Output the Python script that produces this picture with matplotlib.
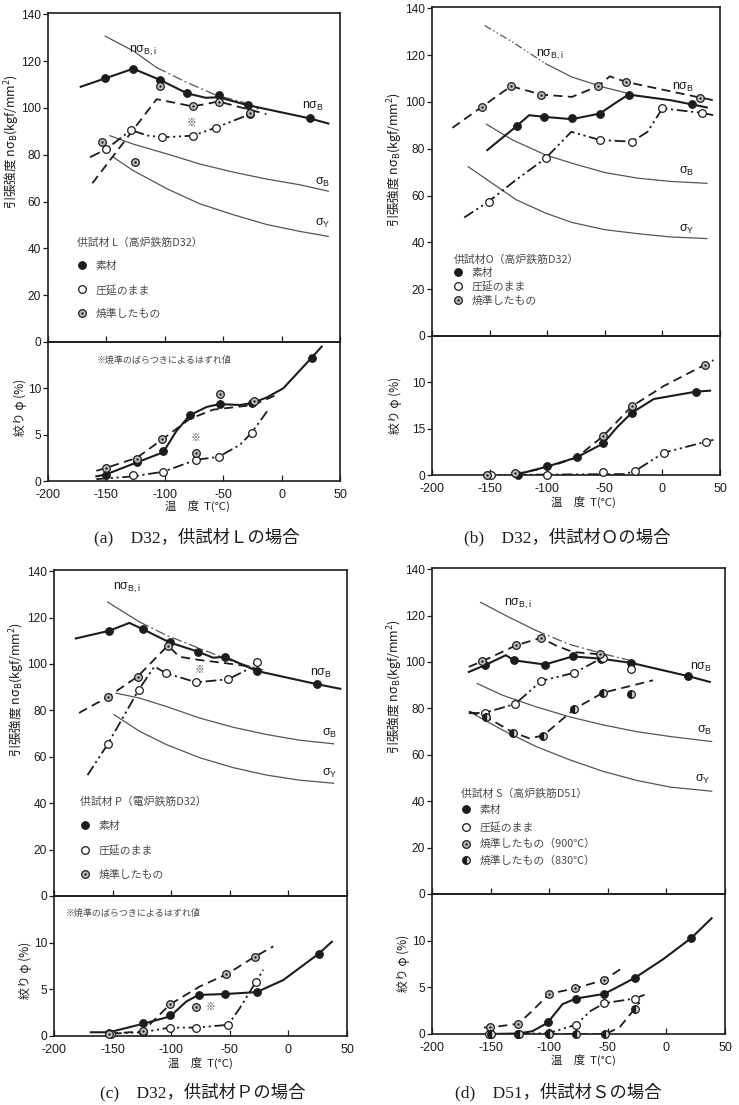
import numpy as np
import matplotlib.pyplot as plt
from matplotlib.lines import Line2D

plt.rcParams['font.family'] = ['Liberation Sans', 'Noto Sans CJK JP']
plt.rcParams['mathtext.default'] = 'regular'
plt.rcParams['axes.unicode_minus'] = False

W, H = 739, 1105
INK = '#1c1c1c'
GREY = '#555555'
SOFT = '#4a4a4a'
JP = ['Noto Sans CJK JP', 'Liberation Sans']
SERIF = ['Liberation Serif', 'Noto Sans CJK JP']

T_TICKS = [-200, -150, -100, -50, 0, 50]

# ---------------- (a) D32, L ----------------
a_nsbi = [(-151, 130.6), (-127, 124.3), (-107, 117.2), (-81, 110.8), (-56, 105.4), (-27, 101.6)]
a_sb = [(-147, 88.1), (-127, 84.5), (-98, 80.3), (-70, 76), (-41, 72.5), (-13, 69.6), (16, 67.1), (40, 64.4)]
a_sy = [(-144, 78.9), (-127, 73.2), (-98, 65.4), (-70, 59), (-41, 54.3), (-13, 50.2), (16, 47.2), (40, 45.1)]
a_bare = [(-151, 112.6), (-127, 116.7), (-104, 111.9), (-81, 106.2), (-54, 105.4), (-28.5, 101.1), (24, 95.5)]
a_bare_line = [(-172, 109), (-151, 112.6), (-127, 116.7), (-104, 111.9), (-81, 106.2), (-65, 104.3),
               (-54, 104.5), (-28.5, 101.1), (24, 95.5), (40, 93.3)]
a_roll = [(-150, 82.4), (-129, 90.5), (-102, 87.4), (-76, 88.1), (-56, 91.6), (-27, 97.3)]
a_roll_line = [(-164, 78.9), (-150, 82.4), (-129, 90.5), (-115, 88.2), (-102, 87.4), (-76, 88.1),
               (-56, 91.6), (-27, 97.3), (-20, 100)]
a_norm = [(-154, 85.2), (-125.5, 76.7), (-104, 109.5), (-76, 100.6), (-54, 102.7), (-27, 97.7)]
a_norm_line = [(-162, 67.8), (-107, 103.7), (-76, 100.6), (-54, 102.7), (-13, 97.3)]

a_phi_bare = [(-150.6, 0.7), (-124, 2.0), (-101.4, 3.2), (-78.6, 7.1), (-52.9, 8.3), (-25.7, 8.4), (25.7, 13.3)]
a_phi_bare_line = [(-158.6, 0.5), (-150.6, 0.7), (-124, 2.0), (-101.4, 3.1), (-90, 5.4), (-78.6, 7.1),
                   (-64, 8.0), (-52.9, 8.3), (-35.7, 8.2), (-25.7, 8.4), (-12.9, 9.0), (1.4, 10.0),
                   (25.7, 13.3), (34.3, 14.5)]
a_phi_norm = [(-150.6, 1.4), (-124, 2.4), (-102, 4.5), (-52.9, 9.4), (-24, 8.6)]
a_phi_norm_line = [(-158.6, 1.1), (-150.6, 1.4), (-124, 2.5), (-102, 4.5), (-78.6, 6.7), (-58.6, 7.7),
                   (-24.3, 8.2), (-4.3, 9.3)]
a_phi_norm_out = [(-73.4, 3.0)]
a_phi_roll = [(-127, 0.6), (-101.4, 1.0), (-72.9, 2.3), (-54, 2.6), (-25.7, 5.2)]
a_phi_roll_line = [(-158.6, 0.2), (-127, 0.5), (-101.4, 1.0), (-72.9, 2.3), (-54, 2.6), (-35.7, 3.9),
                   (-25.7, 5.2), (-11.4, 7.7)]

# ---------------- (b) D32, O ----------------
b_nsbi = [(-154.3, 132.6), (-130, 125.5), (-101.4, 116.3), (-78.6, 110.6), (-50, 106.1), (-27, 103.3)]
b_sb = [(-152.9, 90.5), (-130, 83.7), (-101.4, 77.3), (-78.6, 73.8), (-50, 69.8), (-21.4, 67.4), (7.1, 66), (38.6, 65.2)]
b_sy = [(-168.6, 72.3), (-150, 66), (-127, 58.2), (-101.4, 52.5), (-78.6, 48.5), (-50, 45.4), (-21.4, 43.7),
        (7.1, 42.3), (38.6, 41.6)]
b_bare = [(-126.6, 89.6), (-102.9, 93.6), (-78.6, 93.2), (-54.3, 95), (-29.4, 103.1), (25.7, 98.9)]
b_bare_line = [(-152, 79.4), (-126.6, 89.6), (-115.7, 94.3), (-102.9, 93.6), (-78.6, 92.6), (-54.3, 95),
               (-41.4, 99.3), (-29.4, 103.1), (7.1, 100.7), (25.7, 98.9), (38.6, 97.6)]
b_roll = [(-150.9, 57.4), (-101.4, 75.9), (-54.3, 83.7), (-26.3, 83), (0, 97.2), (34.3, 95.3)]
b_roll_line = [(-172, 50.6), (-150.9, 57.4), (-127, 66.7), (-101.4, 75.9), (-79.1, 87.2), (-54.3, 83.7),
               (-26.3, 83), (-12.9, 87.2), (0, 97.2), (34.3, 95.3), (44.3, 94.3)]
b_norm = [(-156.6, 97.9), (-131.4, 106.7), (-105.1, 103.1), (-55.7, 106.7), (-31.4, 108.5), (32.9, 101.8)]
b_norm_line = [(-182.3, 88.9), (-156.6, 97.9), (-131.4, 106.7), (-105.1, 103.1), (-78.6, 102.1),
               (-55.7, 106.7), (-45.7, 110.9), (-31.4, 108.5), (32.9, 101.8), (44.3, 100.7)]

b_phi_bare = [(-125.3, 0), (-100.3, 1.0), (-74.4, 1.9), (-51.4, 3.4), (-26.7, 6.7), (29.3, 9.0)]
b_phi_bare_line = [(-128, 0), (-100.3, 0.9), (-74.4, 1.9), (-51.4, 3.4), (-39, 5.2), (-26.7, 6.7),
                   (-7.5, 8.2), (29.3, 9.0), (41.4, 9.1)]
b_phi_norm = [(-152.6, 0), (-127.6, 0.2), (-51.4, 4.2), (-26.7, 7.4), (37, 11.9)]
b_phi_norm_line = [(-127.6, 0.1), (-100.3, 0.8), (-74.4, 1.9), (-51.4, 4.2), (-26.7, 7.4), (1.1, 9.6),
                   (37, 11.9), (44.3, 12.4)]
b_phi_roll = [(-148.9, 0), (-100.3, 0), (-51.4, 0.3), (-24.1, 0.4), (1.1, 2.4), (38, 3.6)]
b_phi_roll_line = [(-155, 0), (-33.3, 0.1), (-24.1, 0.4), (1.1, 2.4), (38, 3.6), (44.3, 3.8)]

# ---------------- (c) D32, P ----------------
c_nsbi = [(-154.3, 126.7), (-127, 118.1), (-104.3, 112.4), (-75.7, 106.7), (-47, 101), (-21.4, 97.4)]
c_sb = [(-147, 87.4), (-127, 85.3), (-104.3, 81.7), (-75.7, 76.7), (-47, 72.7), (-18.6, 69.6), (10, 67.1), (38.6, 65.6)]
c_sy = [(-148.6, 78.1), (-127, 71), (-104.3, 65.3), (-75.7, 59.6), (-47, 55.3), (-18.6, 52.1), (10, 49.9), (38.6, 48.6)]
c_bare = [(-152.9, 114.3), (-124.3, 115), (-101.4, 109.3), (-77.1, 105.3), (-54.3, 103.1), (-27.1, 97), (24.3, 91.3)]
c_bare_line = [(-181.4, 111), (-152.9, 114.3), (-135.7, 117.7), (-124.3, 115), (-101.4, 109.3), (-77.1, 105.3),
               (-64.3, 102.7), (-54.3, 103.1), (-27.1, 97), (24.3, 91.3), (44.3, 89.3)]
c_roll = [(-154.3, 65.3), (-127.7, 88.9), (-104.3, 96), (-78.6, 92.1), (-51.4, 93.4), (-27.1, 101)]
c_roll_line = [(-171.4, 52.1), (-154.3, 65.3), (-127.7, 88.9), (-114.3, 98.9), (-104.3, 96), (-78.6, 92.1),
               (-51.4, 93.4), (-35.7, 97.4), (-27.1, 101)]
c_norm = [(-154.3, 85.7), (-128.6, 94.6), (-102.9, 107.9)]
c_norm_line = [(-178.6, 78.9), (-154.3, 85.7), (-128.6, 94.6), (-102.9, 107.9), (-92.9, 103.1), (-75.7, 101.7),
               (-52.9, 100.3), (-32.9, 98.9), (-20, 96)]

c_phi_bare = [(-152.9, 0.3), (-124.3, 1.4), (-100.9, 2.2), (-76.6, 4.4), (-53.7, 4.5), (-27.1, 4.7), (25.7, 8.8)]
c_phi_bare_line = [(-168.6, 0.4), (-152.9, 0.4), (-124.3, 1.3), (-100.9, 2.1), (-87.1, 3.7), (-76.6, 4.4),
                   (-53.7, 4.5), (-27.1, 4.7), (-4.3, 6.0), (25.7, 8.8), (37.1, 10.1)]
c_phi_norm = [(-152.9, 0.25), (-124.3, 0.5), (-100.9, 3.4), (-52.9, 6.6), (-28.6, 8.5)]
c_phi_norm_line = [(-152.9, 0.25), (-124.3, 0.5), (-100.9, 3.4), (-75.7, 5.3), (-52.9, 6.6), (-28.6, 8.5),
                   (-12.9, 9.6)]
c_phi_norm_out = [(-78.6, 3.1)]
c_phi_roll = [(-151.4, 0.25), (-124.3, 0.4), (-101.4, 0.9), (-78.6, 0.9), (-51.4, 1.2), (-27.7, 5.8)]
c_phi_roll_line = [(-151.4, 0.25), (-124.3, 0.4), (-101.4, 0.9), (-78.6, 0.9), (-51.4, 1.2), (-41.4, 3.0),
                   (-27.7, 5.8), (-21.4, 7.1)]

# ---------------- (d) D51, S ----------------
d_nsbi = [(-158.6, 125.7), (-134.3, 119.3), (-111.4, 113.6), (-82.9, 107.6), (-54.3, 103.6), (-31.4, 100.7)]
d_sb = [(-161.4, 90.7), (-140, 85.7), (-111.4, 80.7), (-82.9, 76.4), (-54.3, 72.9), (-25.7, 70), (2.9, 67.9), (38.6, 65.7)]
d_sy = [(-165.7, 77.9), (-140, 70.7), (-111.4, 63.6), (-82.9, 57.9), (-54.3, 52.9), (-25.7, 49), (2.9, 46.1), (38.6, 44.3)]
d_bare = [(-154.9, 98.6), (-130, 100.7), (-103.7, 98.9), (-80, 102.4), (-55.7, 101.4), (-30, 99.6), (18.6, 93.9)]
d_bare_line = [(-168.6, 95.7), (-154.9, 98.6), (-137, 102.9), (-130, 100.7), (-103.7, 98.9), (-80, 102.4),
               (-55.7, 101.4), (-30, 99.6), (18.6, 93.9), (37, 91.4)]
d_roll = [(-154.9, 78.1), (-129, 81.9), (-106.6, 91.9), (-78.6, 95.3), (-54.3, 101.9), (-30, 97.1)]
d_roll_line = [(-168.6, 77.9), (-154.9, 78.1), (-129, 81.9), (-106.6, 91.9), (-78.6, 95.3), (-54.3, 101.9)]
d_norm = [(-157, 100.3), (-128.6, 107.1), (-107, 110.4), (-57, 103.6)]
d_norm_line = [(-168.6, 97.9), (-157, 100.3), (-128.6, 107.1), (-107, 110.4), (-94.3, 107.1), (-80, 104.3),
               (-57, 103.3)]
d_norm2 = [(-154.3, 76.4), (-130.6, 69.6), (-105.1, 68.3), (-78.6, 79.7), (-54.3, 86.7), (-30, 86.1)]
d_norm2_line = [(-168.6, 78.6), (-154.3, 76.4), (-130.6, 69.6), (-117, 67.1), (-105.1, 68.3), (-78.6, 79.7),
                (-54.3, 86.7), (-11.4, 92.1)]

d_phi_bare = [(-150.6, 0), (-126.3, 0), (-101.4, 1.3), (-77.1, 3.8), (-52.9, 4.3), (-27.1, 6.0), (21.4, 10.3)]
d_phi_bare_line = [(-150.6, 0), (-126.3, 0.05), (-114.3, 0.3), (-101.4, 1.2), (-88.6, 3.2), (-77.1, 3.8),
                   (-52.9, 4.3), (-27.1, 6.0), (-2.9, 8.0), (21.4, 10.3), (38.6, 12.4)]
d_phi_norm = [(-150.6, 0.7), (-126.3, 1.1), (-100, 4.3), (-77.7, 4.9), (-52.9, 5.8)]
d_phi_norm_line = [(-155.7, 0.7), (-150.6, 0.7), (-126.3, 1.1), (-114.3, 2.5), (-100, 4.3), (-77.7, 4.9),
                   (-52.9, 5.8), (-38.6, 7.0)]
d_phi_roll = [(-151.4, 0), (-126.3, 0), (-100, 0.1), (-77.1, 1.0), (-52.9, 3.3), (-27.1, 3.8)]
d_phi_roll_line = [(-126.3, 0), (-100, 0.1), (-77.1, 1.0), (-64.3, 2.5), (-52.9, 3.3), (-27.1, 3.8), (-18.6, 4.2)]
d_phi_norm2 = [(-150, 0), (-125.7, 0), (-100, 0), (-77.1, 0), (-52, 0), (-27.1, 2.7)]
d_phi_norm2_line = [(-100, 0), (-52, 0), (-40, 0.7), (-27.1, 2.7), (-22.9, 3.4)]

LEG_BARE = '素材'
LEG_ROLL = '圧延のまま'
LEG_NORM = '焼準したもの'
NOTE = '※焼準のばらつきによるはずれ値'

LS_ROLL = (0, (6, 2, 1.2, 2, 1.2, 2))
LS_NORM = (0, (5, 3))
LS_DASHDOT = (0, (8, 2.5, 1.5, 2.5))

MK = {
    'bare': dict(marker='o', ms=5.5, mfc=INK, mec=INK, mew=0.8),
    'roll': dict(marker='o', ms=5.5, mfc='white', mec=INK, mew=0.9),
    'norm': dict(marker='o', ms=5.5, mfc='#bdbdbd', mec=INK, mew=0.9),
    'norm2': dict(marker='o', ms=5.5, fillstyle='left', mfc=INK, mfcalt='#d8d8d8', mec=INK, mew=0.9),
}
DOT = dict(marker='o', ms=1.7, mfc=INK, mec=INK, mew=0)

fig = plt.figure(figsize=(W / 100, H / 100), dpi=100)


def px_axes(x0, y0, x1, y1):
    return fig.add_axes([x0 / W, 1 - y1 / H, (x1 - x0) / W, (y1 - y0) / H])


def fig_text(x, y, s, **kw):
    fig.text(x / W, 1 - y / H, s, **kw)


def frame(ax, ylim, yticks, ylabels, xlabels):
    ax.set_xlim(-200, 50)
    ax.set_ylim(*ylim)
    ax.set_xticks(T_TICKS)
    ax.set_yticks(yticks)
    ax.set_yticklabels(ylabels)
    ax.patch.set_alpha(0)
    for sp in ax.spines.values():
        sp.set_linewidth(1.2)
        sp.set_color(INK)
    ax.tick_params(axis='x', direction='in', length=4, width=0.9, color=INK,
                   labelsize=9, labelcolor=INK, pad=5.5, labelbottom=xlabels)
    ax.tick_params(axis='y', direction='out', length=3.5, width=0.9, color=INK,
                   labelsize=8.6, labelcolor=INK, pad=1.5)


def line(ax, pts, ls, lw=1.3, color=INK):
    p = np.array(pts, dtype=float)
    ax.plot(p[:, 0], p[:, 1], ls=ls, lw=lw, color=color, dash_capstyle='butt')


def marks(ax, pts, kind):
    p = np.array(pts, dtype=float)
    ax.plot(p[:, 0], p[:, 1], ls='none', zorder=5, clip_on=False, **MK[kind])
    if kind == 'norm':
        ax.plot(p[:, 0], p[:, 1], ls='none', zorder=6, clip_on=False, **DOT)


def handle(kind):
    h = Line2D([], [], ls='none', **MK[kind])
    if kind == 'norm':
        return (h, Line2D([], [], ls='none', **DOT))
    return h


def ref_curves(ax, nsbi, split, ls_first, ls_rest, sb, sy):
    n = np.array(nsbi, dtype=float)
    ax.plot(n[:split + 1, 0], n[:split + 1, 1], ls=ls_first, lw=0.9, color=GREY)
    ax.plot(n[split:, 0], n[split:, 1], ls=ls_rest, lw=0.9, color=GREY)
    line(ax, sb, '-', lw=0.9, color=GREY)
    line(ax, sy, '-', lw=0.9, color=GREY)


def curve_labels(ax, pos):
    texts = [r'n$\sigma_{B,i}$', r'n$\sigma_B$', r'$\sigma_B$', r'$\sigma_Y$']
    for s, (x, y) in zip(texts, pos):
        ax.text(x, y, s, fontsize=9, color=INK, ha='left', va='center')


def legend(ax, title, entries, anchor, spacing):
    hs = [handle(k) for k, _ in entries]
    labs = [t for _, t in entries]
    leg = ax.legend(hs, labs, loc='upper left', bbox_to_anchor=anchor, frameon=False,
                    title=title, alignment='left', prop=dict(family=JP, size=7.8),
                    title_fontproperties=dict(family=JP, size=7.8), labelspacing=spacing,
                    handlelength=0.8, handletextpad=0.9, borderpad=0, borderaxespad=0,
                    labelcolor=SOFT)
    leg.get_title().set_color(SOFT)


def labels_px(yl_top, yl_bot, xl, cap, caption):
    fig_text(*yl_top, '引張強度 n$\\sigma_B$(kgf/mm$^2$)', rotation=90, ha='center', va='center',
             family=JP, fontsize=9, color=INK)
    fig_text(*yl_bot, '絞り φ (%)', rotation=90, ha='center', va='center',
             family=JP, fontsize=8.6, color=INK)
    fig_text(*xl, '温　度  T(°C)', ha='center', va='center', family=JP, fontsize=8.2, color=INK)
    fig_text(*cap, caption, ha='center', va='center', family=SERIF, fontsize=12.5, color=INK)


TOP_YT = [0, 20, 40, 60, 80, 100, 120, 140]
TOP_YL = [str(v) for v in TOP_YT]
BOT_YT = [0, 5, 10]

# ---------------- panel (a) ----------------
at = px_axes(48, 13, 340, 342)
ab = px_axes(48, 342, 340, 481)
frame(at, (0, 140.5), TOP_YT, TOP_YL, False)
frame(ab, (0, 15), BOT_YT, ['0', '5', '10'], True)
ref_curves(at, a_nsbi, 2, '-', LS_DASHDOT, a_sb, a_sy)
line(at, a_bare_line, '-', lw=1.5)
line(at, a_roll_line, LS_ROLL)
line(at, a_norm_line, LS_NORM)
marks(at, a_bare, 'bare')
marks(at, a_roll, 'roll')
marks(at, a_norm, 'norm')
at.text(-77, 93.5, '※', fontsize=7, color=SOFT, ha='center', va='center', family=JP)
curve_labels(at, [(-131, 124.5), (17.5, 100.4), (28.6, 68.2), (28.6, 50.8)])
legend(at, '供試材 L（高炉鉄筋D32）', [('bare', LEG_BARE), ('roll', LEG_ROLL), ('norm', LEG_NORM)],
       (0.10, 0.317), 1.2)
line(ab, a_phi_bare_line, '-', lw=1.5)
line(ab, a_phi_roll_line, LS_ROLL)
line(ab, a_phi_norm_line, LS_NORM)
marks(ab, a_phi_bare, 'bare')
marks(ab, a_phi_roll, 'roll')
marks(ab, a_phi_norm, 'norm')
marks(ab, a_phi_norm_out, 'norm')
ab.text(-73.4, 4.6, '※', fontsize=7, color=SOFT, ha='center', va='center', family=JP)
ab.text(-158.6, 13, NOTE, fontsize=6.5, color=SOFT, ha='left', va='center', family=JP)
labels_px((12, 142), (20, 407), (197, 506), (197, 537), '(a)　D32，供試材Ｌの場合')

# ---------------- panel (b) ----------------
bt = px_axes(432, 7, 720, 336)
bb = px_axes(432, 336, 720, 475)
frame(bt, (0, 140.5), TOP_YT, TOP_YL, False)
frame(bb, (0, 15), BOT_YT, ['0', '15', '10'], True)
ref_curves(bt, b_nsbi, 2, LS_ROLL, '-', b_sb, b_sy)
line(bt, b_bare_line, '-', lw=1.5)
line(bt, b_roll_line, LS_ROLL)
line(bt, b_norm_line, LS_NORM)
marks(bt, b_bare, 'bare')
marks(bt, b_roll, 'roll')
marks(bt, b_norm, 'norm')
curve_labels(bt, [(-110, 119.9), (8.6, 106.1), (14.3, 70.2), (14.3, 45.4)])
legend(bt, '供試材O（高炉鉄筋D32）', [('bare', LEG_BARE), ('roll', LEG_ROLL), ('norm', LEG_NORM)],
       (0.075, 0.249), 0.3)
line(bb, b_phi_bare_line, '-', lw=1.5)
line(bb, b_phi_roll_line, LS_ROLL)
line(bb, b_phi_norm_line, LS_NORM)
marks(bb, b_phi_bare, 'bare')
marks(bb, b_phi_roll, 'roll')
marks(bb, b_phi_norm, 'norm')
labels_px((395, 160), (395, 405), (583, 502), (567, 537), '(b)　D32，供試材Ｏの場合')

# ---------------- panel (c) ----------------
ct = px_axes(54, 570, 347, 896)
cb = px_axes(54, 896, 347, 1036)
frame(ct, (0, 140.5), TOP_YT, TOP_YL, False)
frame(cb, (0, 15), BOT_YT, ['0', '5', '10'], True)
ref_curves(ct, c_nsbi, 1, '-', LS_DASHDOT, c_sb, c_sy)
line(ct, c_bare_line, '-', lw=1.5)
line(ct, c_roll_line, LS_ROLL)
line(ct, c_norm_line, LS_NORM)
marks(ct, c_bare, 'bare')
marks(ct, c_roll, 'roll')
marks(ct, c_norm, 'norm')
ct.text(-76, 97.5, '※', fontsize=7, color=SOFT, ha='center', va='center', family=JP)
curve_labels(ct, [(-150, 132.7), (18.6, 96), (28.6, 69.9), (28.6, 52.7)])
legend(ct, '供試材 P（電炉鉄筋D32）', [('bare', LEG_BARE), ('roll', LEG_ROLL), ('norm', LEG_NORM)],
       (0.09, 0.307), 1.3)
line(cb, c_phi_bare_line, '-', lw=1.5)
line(cb, c_phi_roll_line, LS_ROLL)
line(cb, c_phi_norm_line, LS_NORM)
marks(cb, c_phi_bare, 'bare')
marks(cb, c_phi_roll, 'roll')
marks(cb, c_phi_norm, 'norm')
marks(cb, c_phi_norm_out, 'norm')
cb.text(-71, 3.1, '※', fontsize=7, color=SOFT, ha='left', va='center', family=JP)
cb.text(-190, 13.1, NOTE, fontsize=6.5, color=SOFT, ha='left', va='center', family=JP)
labels_px((17, 690), (25, 970), (200, 1063), (203, 1092), '(c)　D32，供試材Ｐの場合')

# ---------------- panel (d) ----------------
dt = px_axes(432, 568, 725, 894)
db = px_axes(432, 894, 725, 1034)
frame(dt, (0, 140.5), TOP_YT, TOP_YL, False)
frame(db, (0, 15), BOT_YT, ['0', '5', '10'], True)
ref_curves(dt, d_nsbi, 2, '-', LS_DASHDOT, d_sb, d_sy)
line(dt, d_bare_line, '-', lw=1.5)
line(dt, d_roll_line, LS_ROLL)
line(dt, d_norm_line, LS_NORM)
line(dt, d_norm2_line, LS_NORM)
marks(dt, d_bare, 'bare')
marks(dt, d_roll, 'roll')
marks(dt, d_norm, 'norm')
marks(dt, d_norm2, 'norm2')
curve_labels(dt, [(-138.6, 125), (20, 97.6), (25.7, 70.7), (24.3, 49.3)])
legend(dt, '供試材 S（高炉鉄筋D51）',
       [('bare', LEG_BARE), ('roll', LEG_ROLL), ('norm', LEG_NORM + '（900℃）'),
        ('norm2', LEG_NORM + '（830℃）')],
       (0.10, 0.325), 0.6)
line(db, d_phi_bare_line, '-', lw=1.5)
line(db, d_phi_roll_line, LS_ROLL)
line(db, d_phi_norm_line, LS_NORM)
line(db, d_phi_norm2_line, LS_NORM)
marks(db, d_phi_bare, 'bare')
marks(db, d_phi_roll, 'roll')
marks(db, d_phi_norm, 'norm')
marks(db, d_phi_norm2, 'norm2')
labels_px((395, 687), (403, 963), (583, 1060), (558, 1092), '(d)　D51，供試材Ｓの場合')

fig.savefig('out.png', dpi=100)
